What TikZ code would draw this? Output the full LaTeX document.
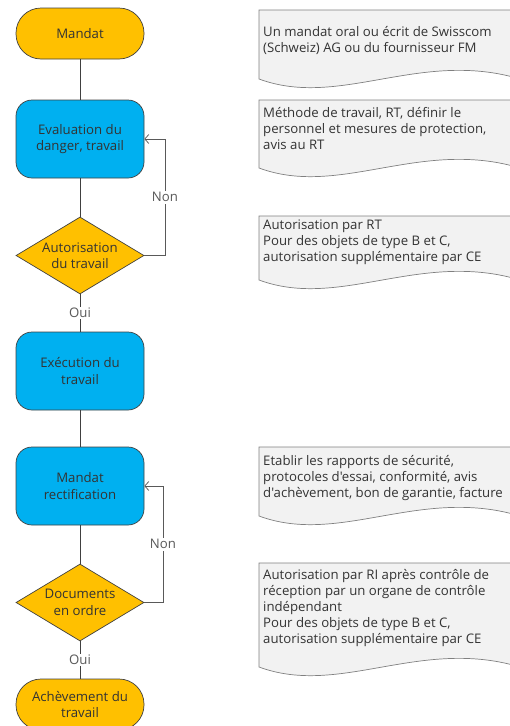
\documentclass[tikz,border=0pt]{standalone}
\usepackage{fontspec}
\setmainfont{Open Sans}[Ligatures=TeXOff]
\usetikzlibrary{shapes.geometric,arrows.meta}
\definecolor{orng}{HTML}{FFC000}
\definecolor{blu}{HTML}{00B0F0}
\definecolor{docfill}{HTML}{F2F2F2}
\definecolor{docline}{HTML}{808080}
\definecolor{txt}{HTML}{333333}
\definecolor{conn}{HTML}{404040}
\definecolor{lbl}{HTML}{595959}
\tikzset{
  base/.style={draw=conn, line width=0.7pt, text=txt, align=center, inner sep=0pt,
    font=\fontsize{13.2}{16.5}\selectfont},
  term/.style={base, fill=orng, rectangle, rounded corners=25pt, minimum width=128pt, minimum height=51pt},
  proc/.style={base, fill=blu, rectangle, rounded corners=16pt, minimum width=128pt, minimum height=78pt},
  dec/.style={base, fill=orng, diamond, minimum width=128pt, minimum height=77pt},
  conline/.style={draw=conn, line width=0.7pt},
  loopline/.style={draw=lbl, line width=0.7pt},
  lab/.style={fill=white, text=lbl, inner sep=1.5pt, font=\fontsize{13.2}{15}\selectfont},
  doc/.style={draw=docline, fill=docfill, line width=0.7pt},
  doctext/.style={anchor=west, inner sep=0pt, align=left, text=txt, font=\fontsize{13.2}{16}\selectfont}
}
\begin{document}
\begin{tikzpicture}[x=1pt,y=-1pt]
\useasboundingbox (0,0) rectangle (510,726);
\clip (0,0) rectangle (510,726);
% flowchart
\node[term] (mandat) at (80,33.5) {Mandat};
\node[proc] (eval) at (80,139) {Evaluation du\\danger, travail};
\node[dec, label={[text=txt, align=center, font=\fontsize{13.2}{16.5}\selectfont]center:Autorisation\\du travail}] (aut) at (80,255.5) {};
\node[proc] (exec) at (80,371) {Exécution du\\travail};
\node[proc] (rect) at (80,486) {Mandat\\rectification};
\node[dec, label={[text=txt, align=center, font=\fontsize{13.2}{16.5}\selectfont]center:Documents\\en ordre}] (docs) at (80,602.5) {};
\node[term] (ach) at (80,704.5) {Achèvement du\\travail};
% connectors
\draw[conline] (mandat) -- (eval);
\draw[conline] (eval) -- (aut);
\draw[conline] (aut) -- node[lab] (oui1) {Oui} (exec);
\draw[conline] (exec) -- (rect);
\draw[conline] (rect) -- (docs);
\draw[conline] (docs) -- node[lab] (oui2) {Oui} (ach);
\coordinate (l1a) at (165,255.5);
\coordinate (l1b) at (165,139);
\draw[loopline, -{Straight Barb[length=4pt,width=9pt]}] (aut.east) -- (l1a) -- node[lab] (non1) {Non} (l1b) -- (eval.east);
\coordinate (l2a) at (163,602.5);
\coordinate (l2b) at (163,486);
\draw[loopline, -{Straight Barb[length=4pt,width=9pt]}] (docs.east) -- (l2a) -- node[lab] (non2) {Non} (l2b) -- (rect.east);
% documents
\draw[doc] (259,79) -- (259,10) -- (520,10) -- (520,79) .. controls (420,49) and (340,109) .. (259,79) -- cycle;
\node[doctext] (d1) at (263,40.5) {Un mandat oral ou écrit de Swisscom\\(Schweiz) AG ou du fournisseur FM};
\draw[doc] (259,168) -- (259,100) -- (520,100) -- (520,168) .. controls (420,138) and (340,198) .. (259,168) -- cycle;
\node[doctext] (d2) at (263,128.5) {Méthode de travail, RT, définir le\\personnel et mesures de protection,\\avis au RT};
\draw[doc] (259,280) -- (259,216) -- (520,216) -- (520,280) .. controls (420,250) and (340,310) .. (259,280) -- cycle;
\node[doctext] (d3) at (263,242) {Autorisation par RT\\Pour des objets de type B et C,\\autorisation supplémentaire par CE};
\draw[doc] (259,516) -- (259,447) -- (520,447) -- (520,516) .. controls (420,486) and (340,546) .. (259,516) -- cycle;
\node[doctext] (d4) at (263,478.5) {Etablir les rapports de sécurité,\\protocoles d'essai, conformité, avis\\d'achèvement, bon de garantie, facture};
\draw[doc] (259,667) -- (259,563) -- (520,563) -- (520,667) .. controls (420,637) and (340,697) .. (259,667) -- cycle;
\node[doctext] (d5) at (263,608) {Autorisation par RI après contrôle de\\réception par un organe de contrôle\\indépendant\\Pour des objets de type B et C,\\autorisation supplémentaire par CE};
\end{tikzpicture}
\end{document}
